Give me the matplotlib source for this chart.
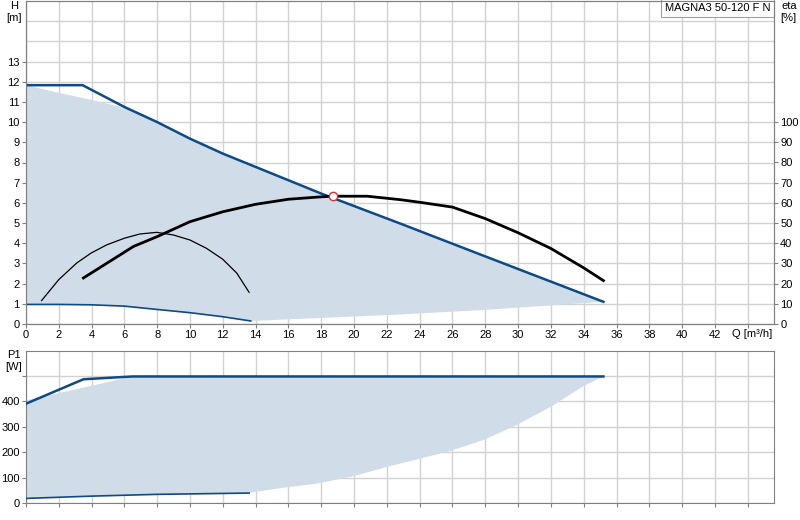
import numpy as np
import matplotlib.pyplot as plt

plt.rcParams['font.family'] = ['Liberation Sans', 'DejaVu Sans']

# max curve H (m)
q_hmax = [0, 3.45, 6, 8, 10, 12, 14, 16, 18, 22.8, 27.9, 35.2]
h_max = [11.83, 11.83, 10.75, 10.0, 9.18, 8.44, 7.78, 7.12, 6.46, 4.98, 3.38, 1.1]
# min curve H
q_hmin = [0, 2, 4, 6, 8, 10, 12, 13.7]
h_min = [0.97, 0.97, 0.95, 0.885, 0.72, 0.56, 0.36, 0.15]
# shaded area H
q_area_top = [0, 2, 4, 6.3]
h_area_top = [11.83, 11.45, 11.1, 10.65]
q_area_low = [13.7, 18, 22.8, 28, 35.2]
h_area_low = [0.15, 0.3, 0.47, 0.7, 1.1]

# efficiency (%)
q_eta = [3.5, 6.55, 8, 10, 12, 14, 16, 18, 18.7, 20.8, 22.8, 24, 26, 28, 30, 32, 34, 35.2]
eta = [22.8, 38.4, 43.3, 50.7, 55.6, 59.3, 61.8, 63.0, 63.3, 63.3, 61.6, 60.3, 57.9, 52.2,
       45.2, 37.4, 27.8, 21.5]
# thin black curve
q_thin = [0.95, 2.0, 3.09, 3.96, 4.92, 6.0, 6.95, 7.97, 8.98, 10.0, 11.0, 11.99, 12.85, 13.6]
h_thin = [1.16, 2.2, 3.02, 3.51, 3.92, 4.25, 4.46, 4.54, 4.41, 4.16, 3.75, 3.21, 2.52, 1.57]

duty_q, duty_h = 18.7, 6.33

# power P1 (W)
q_pmax = [0, 3.5, 6.5, 35.2]
p_max = [390, 486, 497, 497]
q_pmin = [0, 4, 8, 13.6]
p_min = [18, 27, 34, 39]
q_parea_top = [0, 3, 6.5]
p_area_top = [403, 446, 497]
q_parea_low = [13.6, 15.7, 17.7, 19.8, 21.8, 23.8, 25.9, 28, 29.9, 32, 34, 35.2]
p_area_low = [40, 60, 76, 103, 138, 171, 205, 250, 306, 378, 460, 497]

blue = '#0d4a86'
fill_c = '#d0dce8'
grid_c = '#d2d2d2'
spine_c = '#808080'

fig = plt.figure(figsize=(8, 5.2), dpi=100)
ax = fig.add_axes([26/800, 196/520, 748/800, 323/520])
axp = fig.add_axes([26/800, 17/520, 748/800, 152/520])

xmax = 45.6
for a in (ax, axp):
    a.set_xlim(0, xmax)
    a.set_xticks(np.arange(0, 45, 2))
    a.grid(True, which='both', color=grid_c, lw=1)
    a.set_axisbelow(True)
    for s in a.spines.values():
        s.set_color(spine_c)
    a.tick_params(labelsize=8, length=3, color=spine_c, pad=1.5)
    a.tick_params(which='minor', length=0)

# top chart
ax.set_ylim(0, 16)
ax.set_yticks(np.arange(0, 14, 1))
ax.set_yticks([14, 15], minor=True)
ax.set_xticklabels([str(v) if v <= 42 else '' for v in range(0, 45, 2)])

sel = np.array(q_hmax) > 6.3
poly_q = q_area_top + list(np.array(q_hmax)[sel]) + q_area_low[::-1] + q_hmin[::-1]
poly_h = h_area_top + list(np.array(h_max)[sel]) + h_area_low[::-1] + h_min[::-1]
ax.fill(poly_q, poly_h, color=fill_c, lw=0, zorder=1)
ax.plot(q_hmax, h_max, color=blue, lw=1.8, zorder=3)
ax.plot(q_hmin, h_min, color=blue, lw=1.2, zorder=3)
ax.plot(q_thin, h_thin, color='black', lw=0.9, zorder=3)

ax2 = ax.twinx()
ax2.set_ylim(0, 160)
ax2.set_yticks(np.arange(0, 101, 10))
ax2.tick_params(labelsize=8, length=3, color=spine_c, pad=1.5)
for s in ax2.spines.values():
    s.set_color(spine_c)
ax2.plot(q_eta, eta, color='black', lw=2, zorder=3)
ax2.plot(duty_q, duty_h * 10, 'o', ms=6, mfc='white', mec='#e03030', mew=1, zorder=5)

fig.text(14/800, 1 - 6/520, 'H', fontsize=8, ha='center', va='center')
fig.text(14/800, 1 - 18/520, '[m]', fontsize=8, ha='center', va='center')
fig.text(789/800, 1 - 6/520, 'eta', fontsize=8, ha='center', va='center')
fig.text(788/800, 1 - 18/520, '[%]', fontsize=8, ha='center', va='center')
fig.text(752/800, 1 - 334/520, 'Q [m³/h]', fontsize=8, ha='center', va='center')
ax.text(0.995, 0.995, 'MAGNA3 50-120 F N', transform=ax.transAxes, fontsize=8,
        ha='right', va='top', zorder=10,
        bbox=dict(boxstyle='square,pad=0.35', fc='white', ec='#a0a0a0', lw=0.8))

# bottom chart
axp.set_ylim(0, 597)
axp.set_yticks(np.arange(0, 501, 100))
axp.set_yticklabels(['0', '100', '200', '300', '400', ''])
axp.set_xticklabels([])
pq = q_parea_top + [35.2] + q_parea_low[::-1][1:] + q_pmin[::-1]
pp = p_area_top + [497] + p_area_low[::-1][1:] + p_min[::-1]
axp.fill(pq, pp, color=fill_c, lw=0, zorder=1)
axp.plot(q_pmax, p_max, color=blue, lw=1.8, zorder=3)
axp.plot(q_pmin, p_min, color=blue, lw=1.2, zorder=3)
fig.text(14/800, 1 - 355/520, 'P1', fontsize=8, ha='center', va='center')
fig.text(14/800, 1 - 367/520, '[W]', fontsize=8, ha='center', va='center')

fig.savefig('out.png', dpi=100)
